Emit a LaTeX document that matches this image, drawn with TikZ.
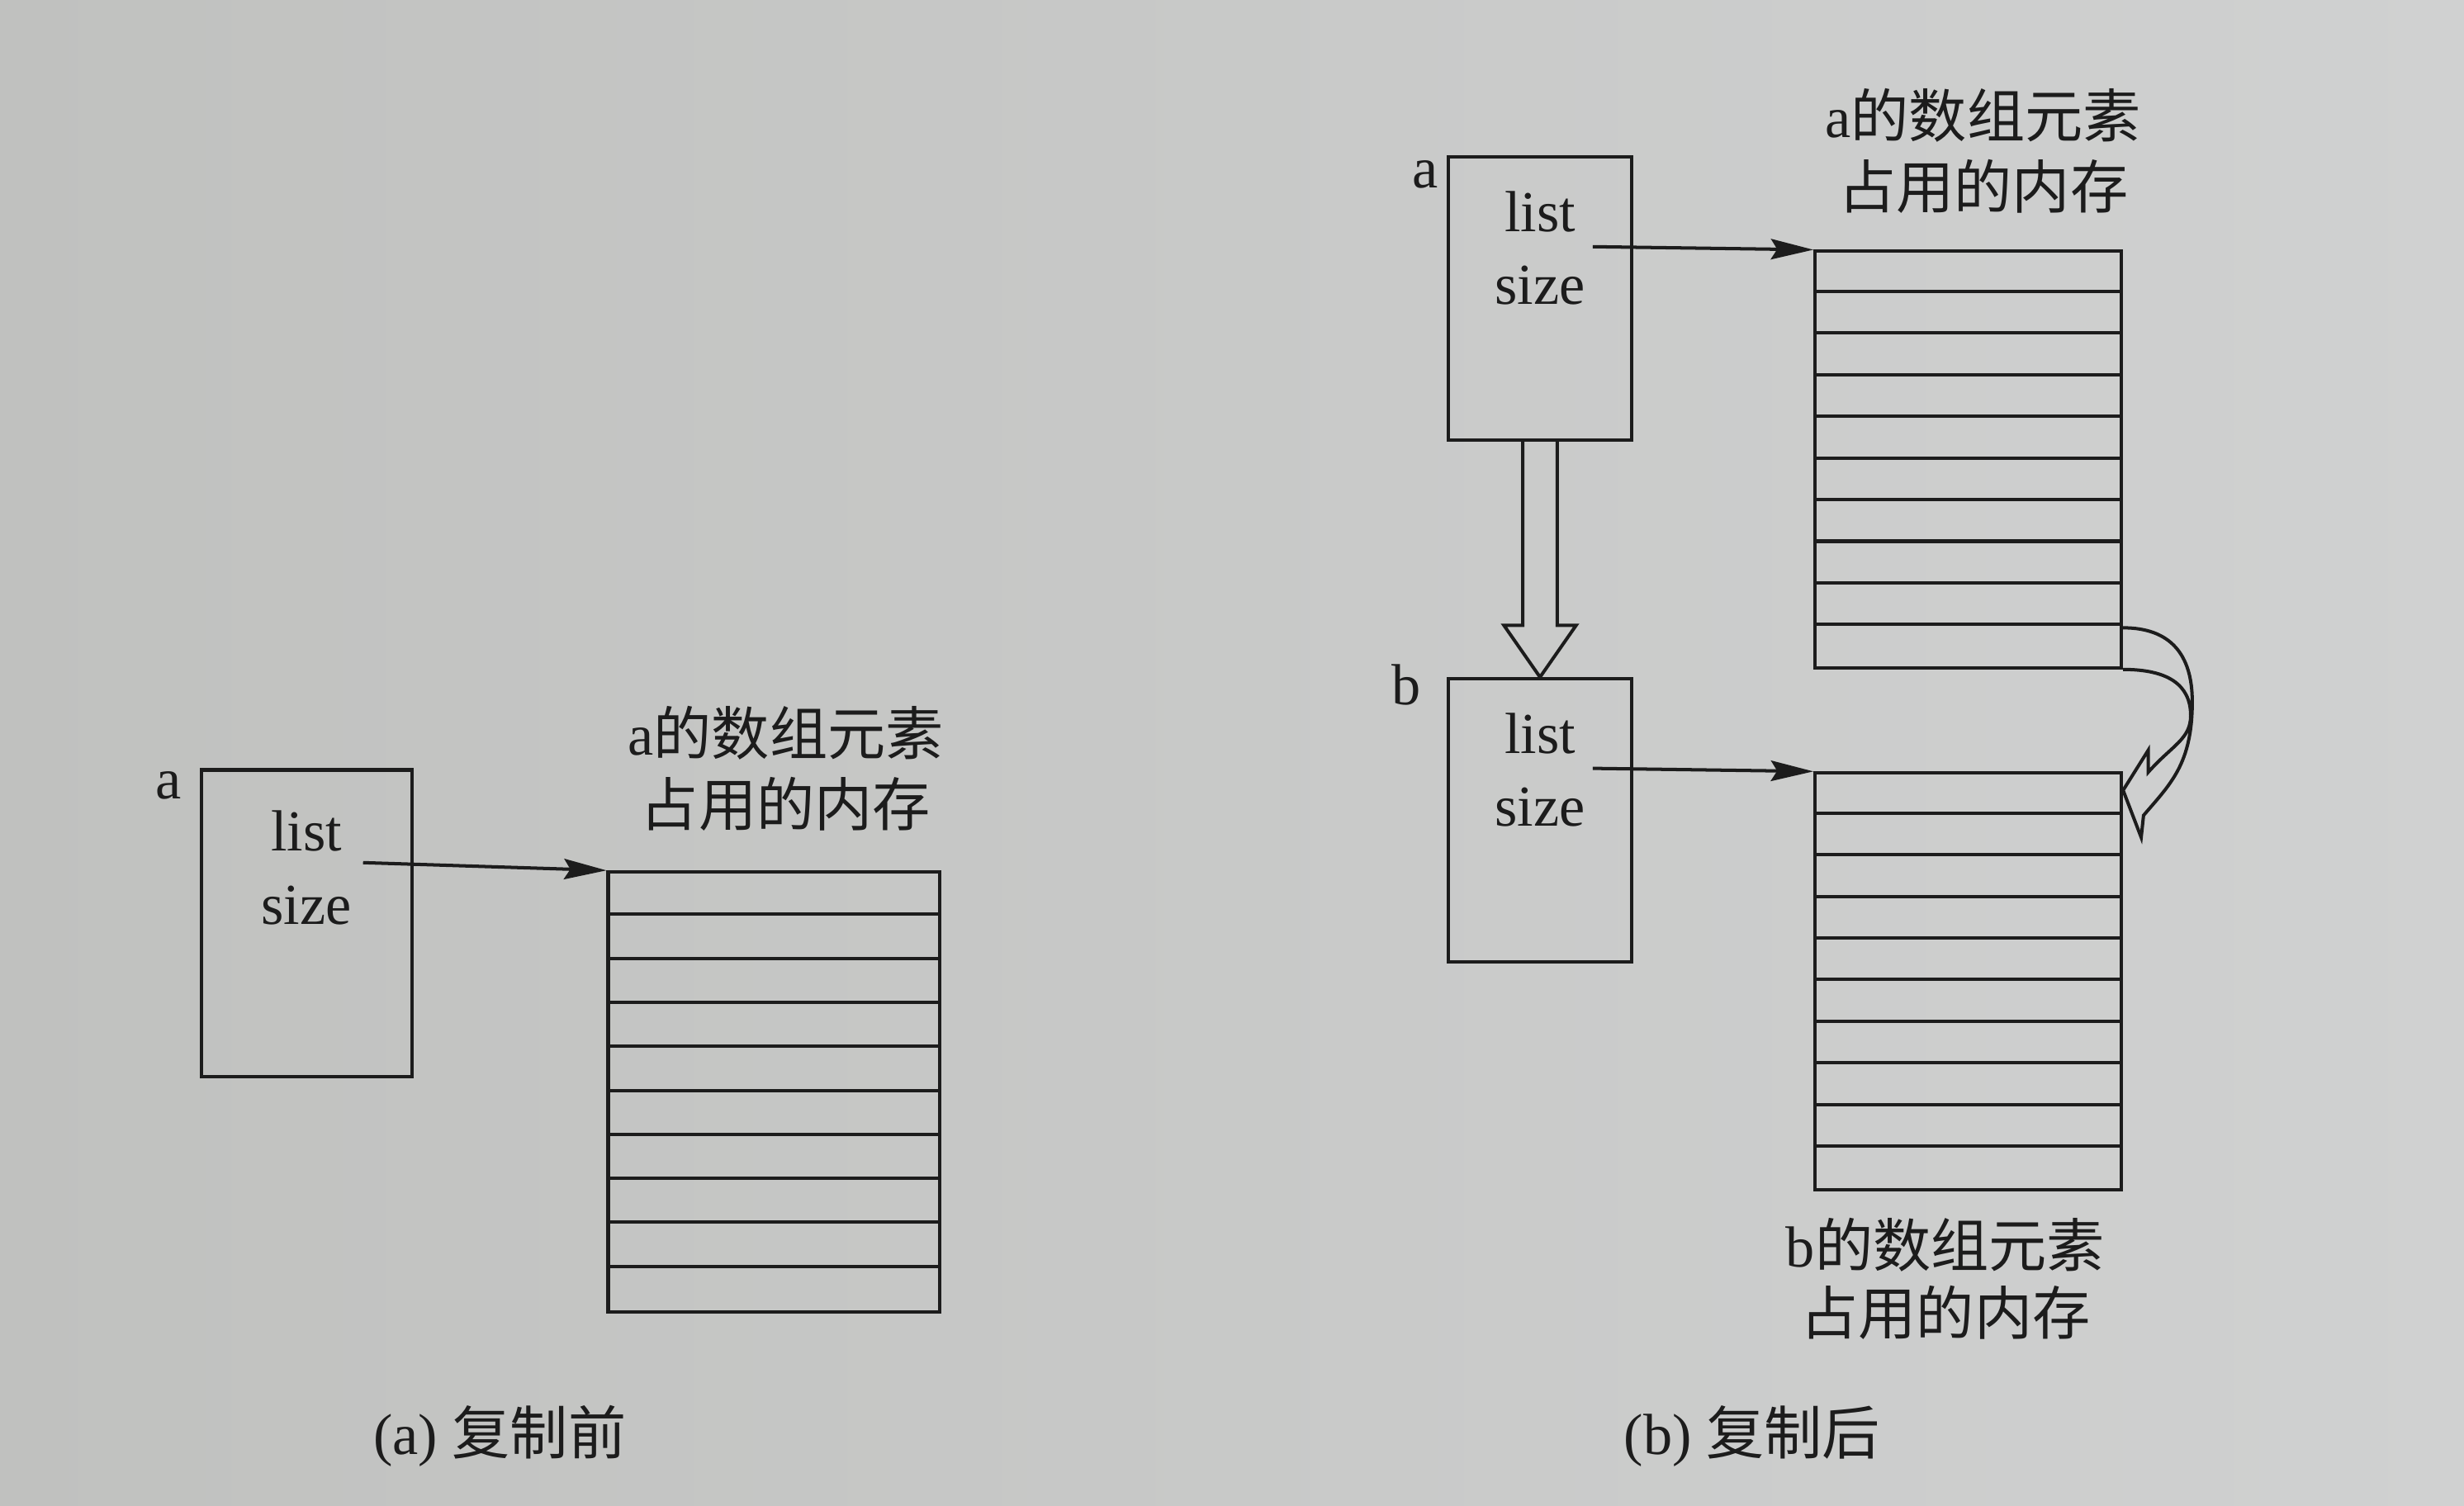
\documentclass[tikz,border=0pt]{standalone}
\usepackage{fontspec}
\setmainfont{Liberation Serif}
\newfontfamily\cjk{Noto Sans CJK SC}
\usepackage{tikz}
\usetikzlibrary{arrows.meta,positioning}
\usepackage{xcolor}
\definecolor{paperL}{RGB}{192,193,191}
\definecolor{paperR}{RGB}{208,209,209}
\definecolor{ink}{RGB}{28,28,28}
\newcommand{\zh}[1]{{\cjk #1}}

\begin{document}
\begin{tikzpicture}[>={Stealth[length=2.7mm,width=1.3mm,inset=0.4mm]},on grid,
  font=\fontsize{10.5}{12.6}\selectfont,
  ptrbox/.style={draw=ink,line width=0.6pt,inner sep=0pt},
  membox/.style={draw=ink,line width=0.6pt,inner sep=0pt},
  txt/.style={inner sep=0pt,text height=1.6ex,text depth=0.3ex,text=ink}]
  \shade[left color=paperL,right color=paperR] (0,0) rectangle (15.68,9.58);

  % (a) before copying
  \node[ptrbox,minimum width=1.34cm,minimum height=1.95cm] (pa) at (1.95,3.705) {};
  \node[txt]   (laba)  at (1.07,4.60)          {a};
  \node[txt]   (lista) [above=5.65mm of pa]    {list};
  \node[txt]   (sizea) [below=4.7mm of lista]  {size};
  \coordinate  (ptra)  at ([shift={(-3.2mm,3.85mm)}]pa.east);
  \node[membox,minimum width=2.11cm,minimum height=2.80cm] (mema) at (4.925,2.63) {};
  \foreach \k in {1,...,9}
    \draw[ink,line width=0.6pt] ([yshift=-\k*2.8mm]mema.north west) -- ([yshift=-\k*2.8mm]mema.north east);
  \node[txt]   (tma1)  at (5.00,4.88)          {a\zh{的数组元素}};
  \node[txt]   (tma2)  [below=4.5mm of tma1]   {\zh{占用的内存}};
  \node[txt]   (capa)  at (3.18,0.43)          {(a) \zh{复制前}};

  % (b) after copying
  \node[ptrbox,minimum width=1.17cm,minimum height=1.80cm] (pb1) at (9.80,7.68) {};
  \node[txt]   (labb1)  at (9.07,8.49)           {a};
  \node[txt]   (listb1) [above=5.3mm of pb1]     {list};
  \node[txt]   (sizeb1) [below=4.6mm of listb1]  {size};
  \coordinate  (ptrb1)  at ([shift={(-2.6mm,3.3mm)}]pb1.east);
  \node[membox,minimum width=1.95cm,minimum height=2.65cm] (memb1) at (12.525,6.655) {};
  \node[txt]   (tmb1a)  at (12.62,8.81)          {a\zh{的数组元素}};
  \node[txt]   (tmb1b)  [below=4.5mm of tmb1a]   {\zh{占用的内存}};

  \node[ptrbox,minimum width=1.17cm,minimum height=1.80cm] (pb2) at (9.80,4.36) {};
  \node[txt]   (labb2)  at (8.95,5.20)           {b};
  \node[txt]   (listb2) [above=5.3mm of pb2]     {list};
  \node[txt]   (sizeb2) [below=4.6mm of listb2]  {size};
  \coordinate  (ptrb2)  at ([shift={(-2.6mm,3.3mm)}]pb2.east);
  \node[membox,minimum width=1.95cm,minimum height=2.65cm] (memb2) at (12.525,3.335) {};
  \node[txt]   (tmb2a)  at (12.38,1.62)          {b\zh{的数组元素}};
  \node[txt]   (tmb2b)  [below=4.3mm of tmb2a]   {\zh{占用的内存}};
  \node[txt]   (capb)   at (11.15,0.43)          {(b) \zh{复制后}};

  \foreach \m in {memb1,memb2}
    \foreach \k in {1,...,9}
      \draw[ink,line width=0.6pt] ([yshift=-\k*2.65mm]\m.north west) -- ([yshift=-\k*2.65mm]\m.north east);

  \tikzset{ptrline/.style={->,draw=ink,fill=ink,line width=0.6pt}}
  \tikzset{hollow/.style={draw=ink,line width=0.6pt,line join=miter}}
  \path (ptra)  edge [ptrline] (mema.north west)
        (ptrb1) edge [ptrline] (memb1.north west)
        (ptrb2) edge [ptrline] (memb2.north west);

  % copy of the object
  \draw[hollow] ([xshift=-1.1mm]pb1.south) -- ([xshift=-1.1mm,yshift=3.3mm]pb2.north)
    -- ([xshift=-2.3mm,yshift=3.3mm]pb2.north) -- (pb2.north)
    -- ([xshift=2.3mm,yshift=3.3mm]pb2.north) -- ([xshift=1.1mm,yshift=3.3mm]pb2.north)
    -- ([xshift=1.1mm]pb1.south);

  % copy of the elements
  \coordinate (tip) at ([yshift=-1.2mm]memb2.north east);
  \coordinate (ro)  at ([shift={(4.4mm,5.65mm)}]tip);
  \coordinate (ri)  at ([shift={(4.3mm,4.75mm)}]tip);
  \draw[hollow] ([yshift=2.65mm]memb1.south east) .. controls +(0.30,0) and +(0,0.30) .. (ro)
    .. controls +(0,-0.40) and +(0.17,0.20) .. ([shift={(1.3mm,-1.6mm)}]tip)
    -- ([shift={(1.15mm,-3.0mm)}]tip) -- (tip) -- ([shift={(1.6mm,2.55mm)}]tip)
    -- ([shift={(1.6mm,1.15mm)}]tip) .. controls +(0.15,0.17) and +(0,-0.15) .. (ri)
    .. controls +(0,0.20) and +(0.28,0) .. (memb1.south east);
\end{tikzpicture}
\end{document}
